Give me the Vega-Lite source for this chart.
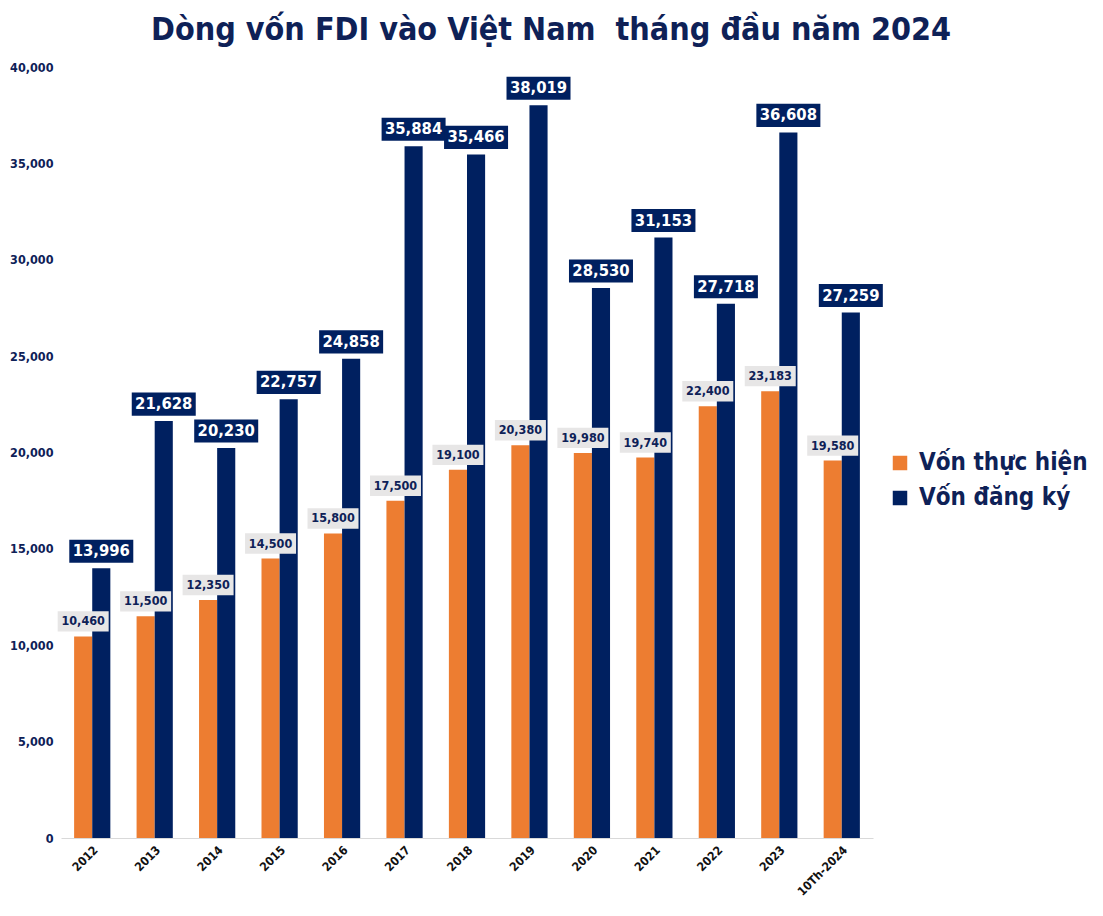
{
  "$schema": "https://vega.github.io/schema/vega-lite/v6.json",
  "width": 812,
  "height": 771,
  "autosize": {"type": "none"},
  "padding": {"left": 61, "top": 67, "right": 230, "bottom": 78},
  "background": "white",
  "config": {"view": {"stroke": null}},
  "title": {
    "text": "Dòng vốn FDI vào Việt Nam\u00a0 tháng đầu năm 2024",
    "font": "DejaVu Sans Condensed",
    "fontSize": 32,
    "fontWeight": "bold",
    "color": "#0E2157",
    "anchor": "middle",
    "dx": 84,
    "offset": 14
  },
  "data": {
    "values": [
      {"year": "2012", "series": "Vốn thực hiện", "value": 10460},
      {"year": "2012", "series": "Vốn đăng ký", "value": 13996},
      {"year": "2013", "series": "Vốn thực hiện", "value": 11500},
      {"year": "2013", "series": "Vốn đăng ký", "value": 21628},
      {"year": "2014", "series": "Vốn thực hiện", "value": 12350},
      {"year": "2014", "series": "Vốn đăng ký", "value": 20230},
      {"year": "2015", "series": "Vốn thực hiện", "value": 14500},
      {"year": "2015", "series": "Vốn đăng ký", "value": 22757},
      {"year": "2016", "series": "Vốn thực hiện", "value": 15800},
      {"year": "2016", "series": "Vốn đăng ký", "value": 24858},
      {"year": "2017", "series": "Vốn thực hiện", "value": 17500},
      {"year": "2017", "series": "Vốn đăng ký", "value": 35884},
      {"year": "2018", "series": "Vốn thực hiện", "value": 19100},
      {"year": "2018", "series": "Vốn đăng ký", "value": 35466},
      {"year": "2019", "series": "Vốn thực hiện", "value": 20380},
      {"year": "2019", "series": "Vốn đăng ký", "value": 38019},
      {"year": "2020", "series": "Vốn thực hiện", "value": 19980},
      {"year": "2020", "series": "Vốn đăng ký", "value": 28530},
      {"year": "2021", "series": "Vốn thực hiện", "value": 19740},
      {"year": "2021", "series": "Vốn đăng ký", "value": 31153},
      {"year": "2022", "series": "Vốn thực hiện", "value": 22400},
      {"year": "2022", "series": "Vốn đăng ký", "value": 27718},
      {"year": "2023", "series": "Vốn thực hiện", "value": 23183},
      {"year": "2023", "series": "Vốn đăng ký", "value": 36608},
      {"year": "10Th-2024", "series": "Vốn thực hiện", "value": 19580},
      {"year": "10Th-2024", "series": "Vốn đăng ký", "value": 27259}
    ]
  },
  "encoding": {
    "x": {
      "field": "year",
      "type": "nominal",
      "sort": null,
      "scale": {"paddingInner": 0.42, "paddingOuter": 0.21},
      "axis": {
        "title": null,
        "labelAngle": -45,
        "labelFont": "DejaVu Sans Condensed",
        "labelFontWeight": "bold",
        "labelFontSize": 12,
        "labelColor": "#111111",
        "ticks": false,
        "domainColor": "#D9D9D9",
        "labelPadding": 6
      }
    },
    "xOffset": {
      "field": "series",
      "type": "nominal",
      "sort": ["Vốn thực hiện", "Vốn đăng ký"],
      "scale": {"domain": ["Vốn thực hiện", "Vốn đăng ký"], "paddingInner": 0, "paddingOuter": 0}
    },
    "y": {
      "field": "value",
      "type": "quantitative",
      "scale": {"domain": [0, 40000], "nice": false},
      "axis": {
        "title": null,
        "domain": false,
        "ticks": false,
        "grid": false,
        "values": [0, 5000, 10000, 15000, 20000, 25000, 30000, 35000, 40000],
        "format": ",.0f",
        "labelFont": "DejaVu Sans Condensed",
        "labelFontWeight": "bold",
        "labelFontSize": 12.5,
        "labelColor": "#0E2157",
        "labelPadding": 8
      }
    }
  },
  "layer": [
    {
      "mark": {"type": "bar"},
      "encoding": {
        "color": {
          "field": "series",
          "type": "nominal",
          "scale": {"domain": ["Vốn thực hiện", "Vốn đăng ký"], "range": ["#ED7D31", "#002060"]},
          "legend": {
            "title": null,
            "orient": "none",
            "legendX": 827,
            "legendY": 384,
            "symbolType": "square",
            "symbolSize": 210,
            "symbolStrokeWidth": 0,
            "labelFont": "DejaVu Sans Condensed",
            "labelFontWeight": "bold",
            "labelFontSize": 24,
            "labelColor": "#0E2157",
            "labelOffset": 7,
            "rowPadding": 11,
            "labelLimit": 300
          }
        }
      }
    },
    {
      "transform": [{"filter": "datum.series === 'Vốn thực hiện'"}],
      "mark": {"type": "point", "shape": "M-1,-0.4L1,-0.4L1,0.4L-1,0.4Z", "size": 2601, "filled": true, "opacity": 1, "color": "#E7E6E6", "strokeWidth": 0, "yOffset": -15}
    },
    {
      "transform": [{"filter": "datum.series === 'Vốn thực hiện'"}],
      "mark": {"type": "text", "font": "DejaVu Sans Condensed", "fontWeight": "bold", "fontSize": 12.5, "color": "#0E2157", "baseline": "middle", "yOffset": -15},
      "encoding": {"text": {"field": "value", "type": "quantitative", "format": ",.0f"}}
    },
    {
      "transform": [{"filter": "datum.series === 'Vốn đăng ký'"}],
      "mark": {"type": "point", "shape": "M-1,-0.36L1,-0.36L1,0.36L-1,0.36Z", "size": 4096, "filled": true, "opacity": 1, "color": "#002060", "strokeWidth": 0, "yOffset": -17}
    },
    {
      "transform": [{"filter": "datum.series === 'Vốn đăng ký'"}],
      "mark": {"type": "text", "font": "DejaVu Sans Condensed", "fontWeight": "bold", "fontSize": 16.5, "color": "white", "baseline": "middle", "yOffset": -17},
      "encoding": {"text": {"field": "value", "type": "quantitative", "format": ",.0f"}}
    }
  ]
}
